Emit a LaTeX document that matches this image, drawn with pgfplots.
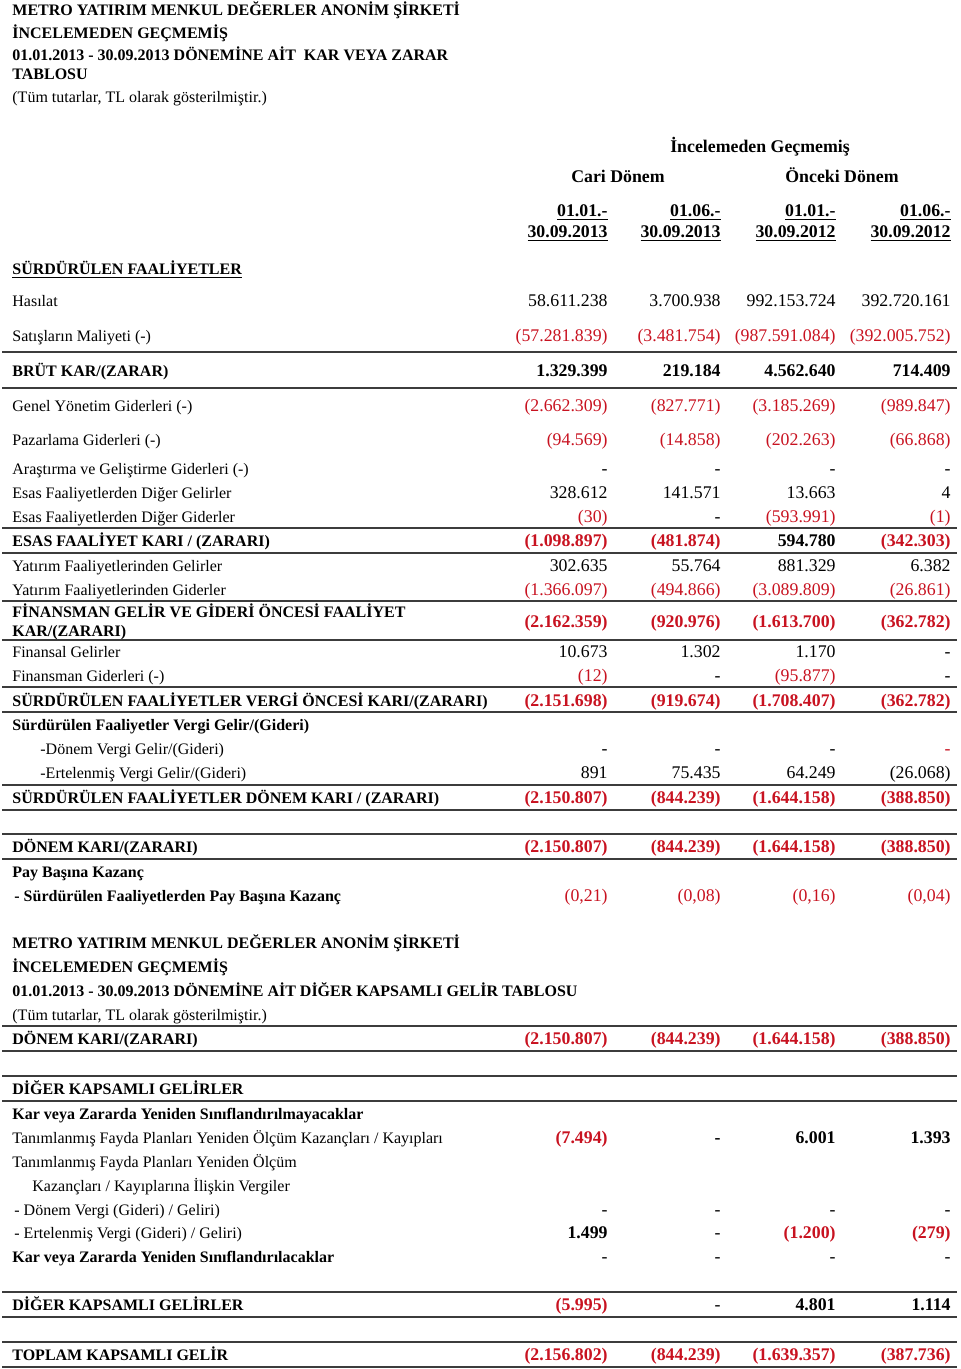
\documentclass[border=0pt]{standalone}
\usepackage{fontspec}
\setmainfont{Liberation Serif}
\usepackage{pgfplots}
\usepackage{pgfplotstable}
\pgfplotsset{compat=1.18}

\definecolor{negred}{RGB}{200,18,32}
\definecolor{rulecol}{RGB}{60,60,60}
\newcommand\fs{\fontsize{8pt}{10pt}\selectfont}
\newcommand\fn{\fontsize{8.9pt}{10pt}\selectfont}

% x = right edge of column, y = baseline (px from top)
\pgfplotstableread{
x y lab
608 306 58.611.238
721 306 3.700.938
836 306 992.153.724
951 306 392.720.161
608 474 -
721 474 -
836 474 -
951 474 -
608 498 328.612
721 498 141.571
836 498 13.663
951 498 4
721 522 -
608 571 302.635
721 571 55.764
836 571 881.329
951 571 6.382
608 657 10.673
721 657 1.302
836 657 1.170
951 657 -
721 681 -
951 681 -
608 754 -
721 754 -
836 754 -
608 778 891
721 778 75.435
836 778 64.249
951 778 (26.068)
608 1215 -
721 1215 -
836 1215 -
951 1215 -
721 1238 -
608 1262 -
721 1262 -
836 1262 -
951 1262 -
721 1310 -
}\blacknormal

\pgfplotstableread{
x y lab
608 341 (57.281.839)
721 341 (3.481.754)
836 341 (987.591.084)
951 341 (392.005.752)
608 411 (2.662.309)
721 411 (827.771)
836 411 (3.185.269)
951 411 (989.847)
608 445 (94.569)
721 445 (14.858)
836 445 (202.263)
951 445 (66.868)
608 522 (30)
836 522 (593.991)
951 522 (1)
608 595 (1.366.097)
721 595 (494.866)
836 595 (3.089.809)
951 595 (26.861)
608 681 (12)
836 681 (95.877)
951 754 -
608 901 (0,21)
721 901 (0,08)
836 901 (0,16)
951 901 (0,04)
}\rednormal

\pgfplotstableread{
x y lab
608 376 1.329.399
721 376 219.184
836 376 4.562.640
951 376 714.409
836 546 594.780
721 1143 -
836 1143 6.001
951 1143 1.393
608 1238 1.499
836 1310 4.801
951 1310 1.114
}\blackbold

\pgfplotstableread{
x y lab
608 546 (1.098.897)
721 546 (481.874)
951 546 (342.303)
608 627 (2.162.359)
721 627 (920.976)
836 627 (1.613.700)
951 627 (362.782)
608 706 (2.151.698)
721 706 (919.674)
836 706 (1.708.407)
951 706 (362.782)
608 803 (2.150.807)
721 803 (844.239)
836 803 (1.644.158)
951 803 (388.850)
608 852 (2.150.807)
721 852 (844.239)
836 852 (1.644.158)
951 852 (388.850)
608 1044 (2.150.807)
721 1044 (844.239)
836 1044 (1.644.158)
951 1044 (388.850)
608 1143 (7.494)
836 1238 (1.200)
951 1238 (279)
608 1310 (5.995)
608 1360 (2.156.802)
721 1360 (844.239)
836 1360 (1.639.357)
951 1360 (387.736)
}\redbold

\begin{document}
\begin{tikzpicture}[
    lab/.style={anchor=base west, inner sep=0pt, font=\fs},
    blab/.style={anchor=base west, inner sep=0pt, font=\fs\bfseries},
    hdr/.style={anchor=base east, inner sep=0pt, font=\fn\bfseries},
]
\begin{axis}[
    scale only axis,
    width=480pt, height=684.5pt,
    xmin=0, xmax=960, ymin=0, ymax=1369,
    y dir=reverse,
    hide axis,
    clip=false,
    vals/.style={draw=none, mark=none, nodes near coords, point meta=explicit symbolic,
        every node near coord/.append style={anchor=base east, inner sep=0pt, font=\fn#1}},
]
\path (axis cs:0,0) rectangle (axis cs:960,1369);

\addplot[vals={\color{black}}] table[meta=lab] {\blacknormal};
\addplot[vals={\color{negred}}] table[meta=lab] {\rednormal};
\addplot[vals={\bfseries\color{black}}] table[meta=lab] {\blackbold};
\addplot[vals={\bfseries\color{negred}}] table[meta=lab] {\redbold};

% header
\node[blab] at (axis cs:12,16) {METRO YATIRIM MENKUL DEĞERLER ANONİM ŞİRKETİ};
\node[blab] at (axis cs:12,39) {İNCELEMEDEN GEÇMEMİŞ};
\node[blab] at (axis cs:12,61) {01.01.2013 - 30.09.2013 DÖNEMİNE AİT \ KAR VEYA ZARAR};
\node[blab] at (axis cs:12,80) {TABLOSU};
\node[lab] at (axis cs:12,103) {(Tüm tutarlar, TL olarak gösterilmiştir.)};

\node[hdr, anchor=base] at (axis cs:760,152) {İncelemeden Geçmemiş};
\node[hdr, anchor=base] at (axis cs:618,182) {Cari Dönem};
\node[hdr, anchor=base] at (axis cs:842,182) {Önceki Dönem};
\node[hdr] at (axis cs:608,216) {\underline{01.01.-}};
\node[hdr] at (axis cs:608,237) {\underline{30.09.2013}};
\node[hdr] at (axis cs:721,216) {\underline{01.06.-}};
\node[hdr] at (axis cs:721,237) {\underline{30.09.2013}};
\node[hdr] at (axis cs:836,216) {\underline{01.01.-}};
\node[hdr] at (axis cs:836,237) {\underline{30.09.2012}};
\node[hdr] at (axis cs:951,216) {\underline{01.06.-}};
\node[hdr] at (axis cs:951,237) {\underline{30.09.2012}};

\node[blab] at (axis cs:12,274) {\underline{SÜRDÜRÜLEN FAALİYETLER}};
\node[lab] at (axis cs:12,306) {Hasılat};
\node[lab] at (axis cs:12,341) {Satışların Maliyeti (-)};
\node[blab] at (axis cs:12,376) {BRÜT KAR/(ZARAR)};
\node[lab] at (axis cs:12,411) {Genel Yönetim Giderleri (-)};
\node[lab] at (axis cs:12,445) {Pazarlama Giderleri (-)};
\node[lab] at (axis cs:12,474) {Araştırma ve Geliştirme Giderleri (-)};
\node[lab] at (axis cs:12,498) {Esas Faaliyetlerden Diğer Gelirler};
\node[lab] at (axis cs:12,522) {Esas Faaliyetlerden Diğer Giderler};
\node[blab] at (axis cs:12,546) {ESAS FAALİYET KARI / (ZARARI)};
\node[lab] at (axis cs:12,571) {Yatırım Faaliyetlerinden Gelirler};
\node[lab] at (axis cs:12,595) {Yatırım Faaliyetlerinden Giderler};
\node[blab] at (axis cs:12,617) {FİNANSMAN GELİR VE GİDERİ ÖNCESİ FAALİYET};
\node[blab] at (axis cs:12,636) {KAR/(ZARARI)};
\node[lab] at (axis cs:12,657) {Finansal Gelirler};
\node[lab] at (axis cs:12,681) {Finansman Giderleri (-)};
\node[blab] at (axis cs:12,706) {SÜRDÜRÜLEN FAALİYETLER VERGİ ÖNCESİ KARI/(ZARARI)};
\node[blab] at (axis cs:12,730) {Sürdürülen Faaliyetler Vergi Gelir/(Gideri)};
\node[lab] at (axis cs:40,754) {-Dönem Vergi Gelir/(Gideri)};
\node[lab] at (axis cs:40,778) {-Ertelenmiş Vergi Gelir/(Gideri)};
\node[blab] at (axis cs:12,803) {SÜRDÜRÜLEN FAALİYETLER DÖNEM KARI / (ZARARI)};
\node[blab] at (axis cs:12,852) {DÖNEM KARI/(ZARARI)};
\node[blab] at (axis cs:12,877) {Pay Başına Kazanç};
\node[blab] at (axis cs:14,901) {- Sürdürülen Faaliyetlerden Pay Başına Kazanç};

% second statement
\node[blab] at (axis cs:12,948) {METRO YATIRIM MENKUL DEĞERLER ANONİM ŞİRKETİ};
\node[blab] at (axis cs:12,972) {İNCELEMEDEN GEÇMEMİŞ};
\node[blab] at (axis cs:12,996) {01.01.2013 - 30.09.2013 DÖNEMİNE AİT DİĞER KAPSAMLI GELİR TABLOSU};
\node[lab] at (axis cs:12,1020) {(Tüm tutarlar, TL olarak gösterilmiştir.)};
\node[blab] at (axis cs:12,1044) {DÖNEM KARI/(ZARARI)};
\node[blab] at (axis cs:12,1094) {DİĞER KAPSAMLI GELİRLER};
\node[blab] at (axis cs:12,1119) {Kar veya Zararda Yeniden Sınıflandırılmayacaklar};
\node[lab] at (axis cs:12,1143) {Tanımlanmış Fayda Planları Yeniden Ölçüm Kazançları / Kayıpları};
\node[lab] at (axis cs:12,1167) {Tanımlanmış Fayda Planları Yeniden Ölçüm};
\node[lab] at (axis cs:32,1191) {Kazançları / Kayıplarına İlişkin Vergiler};
\node[lab] at (axis cs:14,1215) {- Dönem Vergi (Gideri) / Geliri)};
\node[lab] at (axis cs:14,1238) {- Ertelenmiş Vergi (Gideri) / Geliri)};
\node[blab] at (axis cs:12,1262) {Kar veya Zararda Yeniden Sınıflandırılacaklar};
\node[blab] at (axis cs:12,1310) {DİĞER KAPSAMLI GELİRLER};
\node[blab] at (axis cs:12,1360) {TOPLAM KAPSAMLI GELİR};

% rules
\foreach \yy in {352,388,528,553,601,640,687,712,785,810,834,859,1026,1051,1076,1101,1292,1317,1342,1367} {
  \edef\temp{\noexpand\draw[rulecol, line width=0.8pt] (axis cs:2,\yy) -- (axis cs:957,\yy);}
  \temp
}
\end{axis}
\end{tikzpicture}
\end{document}
